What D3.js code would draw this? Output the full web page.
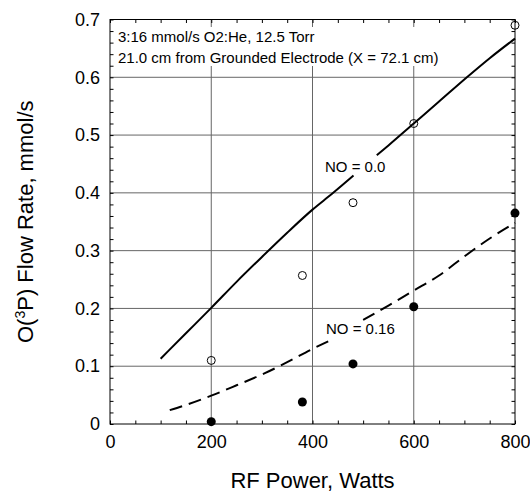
<!DOCTYPE html>
<html>
<head>
<meta charset="utf-8">
<script src="https://cdn.jsdelivr.net/npm/d3@7"></script>
<style>
  body { margin: 0; background: #fff; }
  svg { display: block; font-family: "Liberation Sans", Arial, sans-serif; }
</style>
</head>
<body>
<svg id="chart" width="530" height="493"></svg>
<script>
// measured points (RF power W, O(3P) flow mmol/s)
const powerPts = [200, 380, 480, 600, 800];
const flowNO0 = [0.11, 0.257, 0.383, 0.52, 0.69];
const flowNO16 = [0.004, 0.038, 0.104, 0.203, 0.365];

// fitted curves, split where the labels sit
const curveNO0 = [
  [[100, 0.113], [150, 0.157], [200, 0.201], [250, 0.246], [300, 0.289], [350, 0.331],
   [400, 0.371], [438, 0.398], [481, 0.43]],
  [[527, 0.465], [550, 0.482], [600, 0.52], [650, 0.558], [705, 0.6], [750, 0.633], [800, 0.667]]
];
const curveNO16 = [
  [[118, 0.024], [150, 0.033], [200, 0.049], [250, 0.067], [306, 0.088], [350, 0.107],
   [400, 0.13], [438, 0.146]],
  [[500, 0.18], [550, 0.205], [600, 0.231], [650, 0.257], [700, 0.29], [750, 0.321], [800, 0.348]]
];

const xTicks = [0, 200, 400, 600, 800];
const yTicks = [0, 0.1, 0.2, 0.3, 0.4, 0.5, 0.6, 0.7];
const noteLines = ['3:16 mmol/s O2:He, 12.5 Torr', '21.0 cm from Grounded Electrode (X = 72.1 cm)'];

const svg = d3.select('#chart');
const x = d3.scaleLinear().domain([0, 800]).range([110, 515]);
const y = d3.scaleLinear().domain([0, 0.7]).range([424, 19.5]);

// grid
const grid = svg.append('g').attr('stroke', '#666').attr('stroke-width', 1);
grid.selectAll('.gx').data(xTicks.slice(1, -1)).join('line')
  .attr('x1', d => x(d)).attr('x2', d => x(d))
  .attr('y1', y(0)).attr('y2', y(0.7));
grid.selectAll('.gy').data(yTicks.slice(1, -1)).join('line')
  .attr('x1', x(0)).attr('x2', x(800))
  .attr('y1', d => y(d)).attr('y2', d => y(d));

// note box (white background hides the grid)
svg.append('rect')
  .attr('x', 113).attr('y', 27).attr('width', 350).attr('height', 39)
  .attr('fill', '#fff');
svg.append('g').selectAll('text').data(noteLines).join('text')
  .attr('x', 118)
  .attr('y', (d, i) => 41.5 + i * 21)
  .style('font-size', '15px')
  .text(d => d);

// curves
const line = d3.line().curve(d3.curveMonotoneX).x(d => x(d[0])).y(d => y(d[1]));
svg.append('g').selectAll('path').data(curveNO0).join('path')
  .attr('d', line).attr('fill', 'none')
  .attr('stroke', '#000').attr('stroke-width', 2);
svg.append('g').selectAll('path').data(curveNO16).join('path')
  .attr('d', line).attr('fill', 'none')
  .attr('stroke', '#000').attr('stroke-width', 2)
  .attr('stroke-dasharray', '13,7');

svg.append('text').attr('x', 325).attr('y', 172)
  .style('font-size', '15px').text('NO = 0.0');
svg.append('text').attr('x', 326).attr('y', 334)
  .style('font-size', '15px').text('NO = 0.16');

// markers
svg.append('g').selectAll('circle').data(powerPts).join('circle')
  .attr('cx', d => x(d)).attr('cy', (d, i) => y(flowNO0[i]))
  .attr('r', 4).attr('fill', 'none').attr('stroke', '#000').attr('stroke-width', 1);
svg.append('g').selectAll('circle').data(powerPts).join('circle')
  .attr('cx', d => x(d)).attr('cy', (d, i) => y(flowNO16[i]))
  .attr('r', 4.5).attr('fill', '#000');

// frame
svg.append('rect')
  .attr('x', x(0)).attr('y', y(0.7))
  .attr('width', x(800) - x(0)).attr('height', y(0) - y(0.7))
  .attr('fill', 'none').attr('stroke', '#000').attr('stroke-width', 1);

// minor ticks, inside on all four sides
const xMinor = d3.range(0, 801, 50);
const yMinor = d3.range(0, 0.7001, 0.02);
const noText = g => g.selectAll('text').remove();
svg.append('g').attr('transform', `translate(0,${y(0)})`)
  .call(d3.axisBottom(x).tickValues(xMinor).tickSize(-3.5).tickSizeOuter(0)).call(noText);
svg.append('g').attr('transform', `translate(0,${y(0.7)})`)
  .call(d3.axisTop(x).tickValues(xMinor).tickSize(-3.5).tickSizeOuter(0)).call(noText);
svg.append('g').attr('transform', `translate(${x(0)},0)`)
  .call(d3.axisLeft(y).tickValues(yMinor).tickSize(-3.5).tickSizeOuter(0)).call(noText);
svg.append('g').attr('transform', `translate(${x(800)},0)`)
  .call(d3.axisRight(y).tickValues(yMinor).tickSize(-3.5).tickSizeOuter(0)).call(noText);
svg.selectAll('.domain').remove();
svg.selectAll('.tick line').attr('stroke', '#000');

// tick labels
svg.append('g').attr('transform', `translate(0,${y(0)})`)
  .call(d3.axisBottom(x).tickValues(xTicks).tickSize(0).tickPadding(11.5).tickFormat(d3.format('d')))
  .call(g => g.select('.domain').remove())
  .selectAll('text').style('font-size', '18px').attr('fill', '#000');
svg.append('g').attr('transform', `translate(${x(0)},0)`)
  .call(d3.axisLeft(y).tickValues(yTicks).tickSize(0).tickPadding(10)
    .tickFormat(d => d === 0 ? '0' : d3.format('.1f')(d)))
  .call(g => g.select('.domain').remove())
  .selectAll('text').style('font-size', '18px').attr('fill', '#000');

// axis titles
svg.append('text')
  .attr('x', (x(0) + x(800)) / 2).attr('y', 488)
  .attr('text-anchor', 'middle')
  .style('font-size', '22px')
  .text('RF Power, Watts');

const yTitle = svg.append('text')
  .attr('transform', `translate(33,${(y(0) + y(0.7)) / 2}) rotate(-90)`)
  .attr('text-anchor', 'middle')
  .style('font-size', '22px');
yTitle.append('tspan').text('O(');
yTitle.append('tspan').attr('dy', -8).style('font-size', '14px').text('3');
yTitle.append('tspan').attr('dy', 8).text('P) Flow Rate, mmol/s');
</script>
</body>
</html>
